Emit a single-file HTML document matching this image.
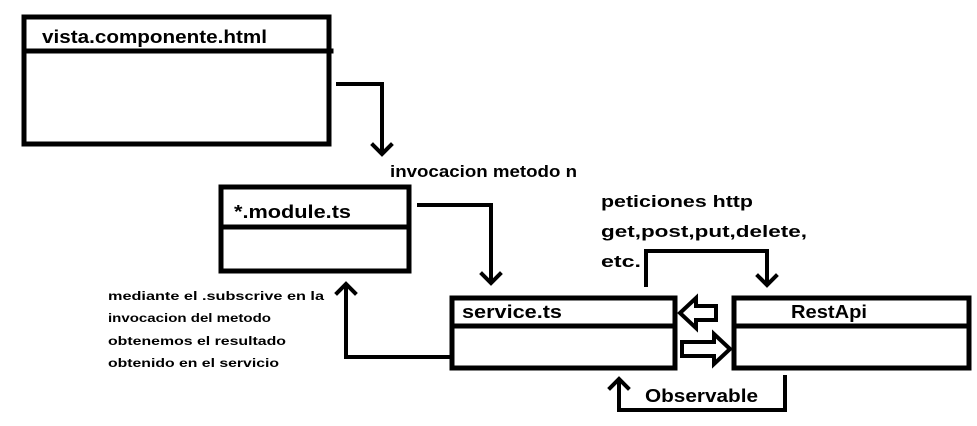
<!DOCTYPE html>
<html><head><meta charset="utf-8"><style>html,body{margin:0;padding:0;background:#fff;}svg{display:block}</style></head>
<body>
<svg width="977" height="426" viewBox="0 0 977 426" xmlns="http://www.w3.org/2000/svg">
<g fill="none" stroke="#000" stroke-width="5" stroke-linecap="square">
<rect x="24" y="17" width="305" height="127"/>
<line x1="24" y1="51" x2="331" y2="51"/>
<rect x="221" y="187" width="188" height="84"/>
<line x1="221" y1="227" x2="409" y2="227"/>
<rect x="452" y="298" width="223" height="70"/>
<line x1="452" y1="326" x2="675" y2="326"/>
<rect x="734" y="298" width="235" height="70"/>
<line x1="734" y1="326" x2="969" y2="326"/>
<g stroke-width="4">
<polyline points="338,84 382,84 382,153"/>
<polyline points="373,145 382,154 391,145"/>
<polyline points="419,205 491,205 491,282"/>
<polyline points="482,274 491,283 500,274"/>
<polyline points="450,357 346,357 346,285"/>
<polyline points="337,293 346,284 355,293"/>
<polyline points="646,285 646,251 767,251 767,284"/>
<polyline points="758,276 767,285 776,276"/>
<polyline points="785,377 785,410 619,410 619,380"/>
<polyline points="610,388 619,379 628,388"/>
<polygon points="680,313 696,298 696,306 716,306 716,320 696,320 696,328"/>
<polygon points="730,349 714,334 714,342 682,342 682,356 714,356 714,364"/>
</g>
</g>
<g font-family="Liberation Sans, sans-serif" font-weight="bold" fill="#000">
<text x="42" y="43" font-size="18" textLength="225" lengthAdjust="spacingAndGlyphs">vista.componente.html</text>
<text x="390" y="177" font-size="17" textLength="187" lengthAdjust="spacingAndGlyphs">invocacion metodo n</text>
<text x="234" y="218" font-size="18" textLength="117" lengthAdjust="spacingAndGlyphs">*.module.ts</text>
<text x="601" y="207" font-size="17" textLength="152" lengthAdjust="spacingAndGlyphs">peticiones http</text>
<text x="601" y="237" font-size="17" textLength="206" lengthAdjust="spacingAndGlyphs">get,post,put,delete,</text>
<text x="601" y="267" font-size="17" textLength="40" lengthAdjust="spacingAndGlyphs">etc.</text>
<text x="462" y="318" font-size="18" textLength="100" lengthAdjust="spacingAndGlyphs">service.ts</text>
<text x="791" y="318" font-size="18" textLength="76" lengthAdjust="spacingAndGlyphs">RestApi</text>
<text x="645" y="402" font-size="18" textLength="113" lengthAdjust="spacingAndGlyphs">Observable</text>
<g font-size="12">
<text x="108" y="300" textLength="216" lengthAdjust="spacingAndGlyphs">mediante el .subscrive en la</text>
<text x="108" y="322" textLength="163" lengthAdjust="spacingAndGlyphs">invocacion del metodo</text>
<text x="108" y="345" textLength="178" lengthAdjust="spacingAndGlyphs">obtenemos el resultado</text>
<text x="108" y="367" textLength="171" lengthAdjust="spacingAndGlyphs">obtenido en el servicio</text>
</g>
</g>
</svg>
</body></html>
